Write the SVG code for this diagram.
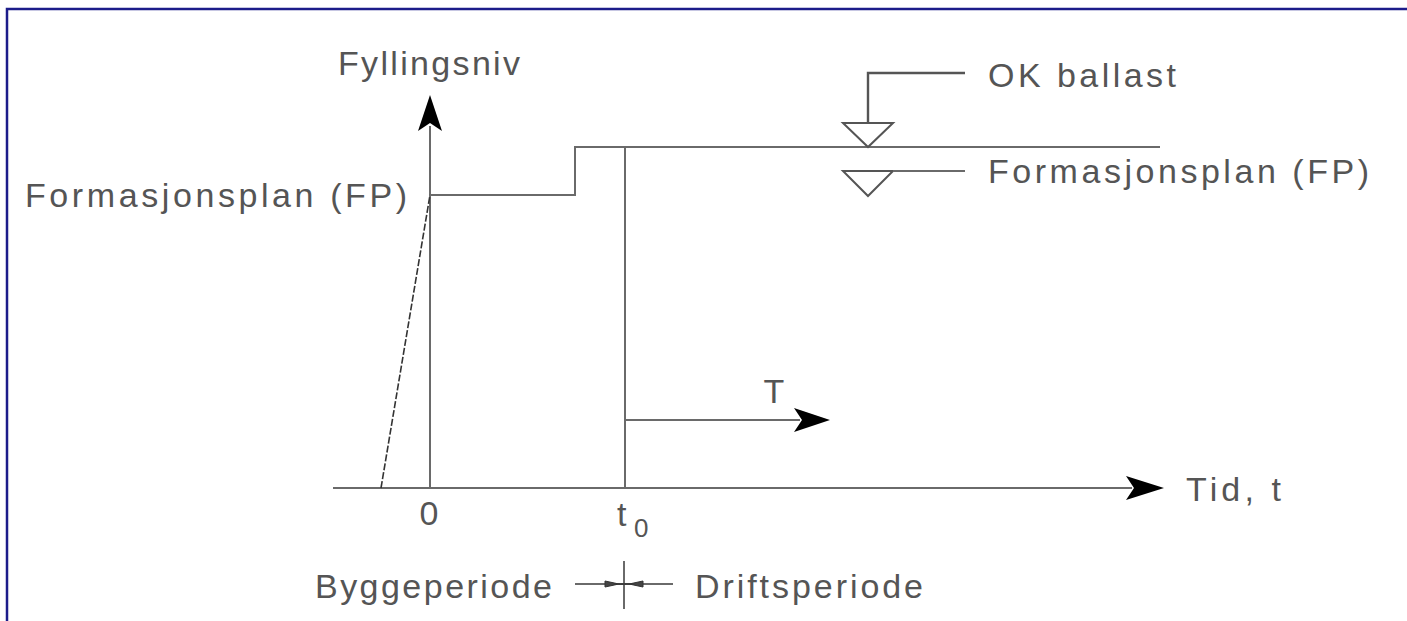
<svg xmlns="http://www.w3.org/2000/svg" width="1407" height="621" viewBox="0 0 1407 621">
<style>
.ln{stroke:#6a6a6a;stroke-width:2;fill:none}
.hd{fill:#000;stroke:none}
.tx{font-family:"Liberation Sans",Arial,sans-serif;font-size:34px;fill:#555555;font-weight:normal}
.frame{stroke:#1c1c8a;stroke-width:2.5;fill:none}
</style>
<rect x="0" y="0" width="1407" height="621" fill="#ffffff"/>
<path class="frame" d="M7,621 V9 H1407"/>
<g id="connectors">
  <line class="ln" x1="333" y1="488" x2="1132" y2="488"/>
  <polygon class="hd" points="1164,488 1126,476 1134,488 1126,500"/>
  <line class="ln" x1="430" y1="488" x2="430" y2="126"/>
  <polygon class="hd" points="430,95 418,131 430,123 442,131"/>
  <line class="ln" x1="381" y1="488" x2="430" y2="195" stroke-dasharray="7 2" style="stroke:#333;stroke-width:1.6"/>
  <path class="ln" d="M430,195 H575 V147 H1160"/>
  <line class="ln" x1="625" y1="147" x2="625" y2="488"/>
  <line class="ln" x1="625" y1="420" x2="800" y2="420"/>
  <polygon class="hd" points="830,420 794,408 802,420 794,432"/>
</g>
<g id="ok-ballast">
  <path class="ln" d="M965,73 H868 V123" style="stroke-width:2.4;stroke:#555"/>
  <polygon class="ln" points="843,123 893,123 868,147" style="stroke:#555"/>
  <text class="tx" x="988" y="87" textLength="188" lengthAdjust="spacing">OK ballast</text>
</g>
<g id="fp-right">
  <polygon class="ln" points="843,171 893,171 868,196" style="stroke:#555"/>
  <line class="ln" x1="893" y1="171" x2="965" y2="171"/>
  <text class="tx" x="988" y="183" textLength="381" lengthAdjust="spacing">Formasjonsplan (FP)</text>
</g>
<g id="y-axis-label">
  <text class="tx" x="338" y="75" textLength="182" lengthAdjust="spacing">Fyllingsniv</text>
</g>
<g id="fp-left">
  <text class="tx" x="25" y="207" textLength="382" lengthAdjust="spacing">Formasjonsplan (FP)</text>
</g>
<g id="x-axis-label">
  <text class="tx" x="1186" y="501" textLength="95" lengthAdjust="spacing">Tid,  t</text>
</g>
<g id="tick-0">
  <text class="tx" x="429" y="525" text-anchor="middle">0</text>
</g>
<g id="tick-t0">
  <text class="tx" x="617" y="526">t</text>
  <text class="tx" x="634" y="537" style="font-size:26px">0</text>
</g>
<g id="T-label">
  <text class="tx" x="774" y="403" text-anchor="middle">T</text>
</g>
<g id="legend">
  <text class="tx" x="315" y="598" textLength="237" lengthAdjust="spacing">Byggeperiode</text>
  <line class="ln" x1="575" y1="584" x2="673" y2="584"/>
  <line class="ln" x1="624" y1="561" x2="624" y2="609"/>
  <path d="M605,581 L612,582.5 Q624,586 636,582.5 L643,581 L643,587 L636,585.5 Q624,582 612,585.5 L605,587 Z" fill="#444" stroke="#333" stroke-width="1"/>
  <text class="tx" x="695" y="598" textLength="228" lengthAdjust="spacing">Driftsperiode</text>
</g>
</svg>
